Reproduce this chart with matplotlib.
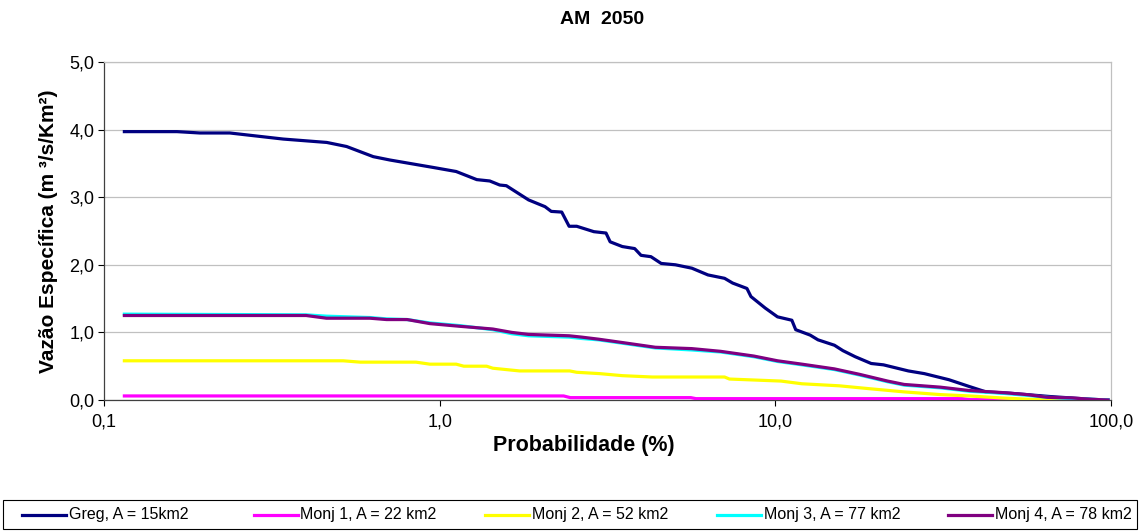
import matplotlib
matplotlib.use("Agg")
import matplotlib.pyplot as plt
from matplotlib.ticker import FixedLocator, NullLocator
from matplotlib.lines import Line2D
from matplotlib.patches import Rectangle

plt.rcParams['font.family'] = ['Liberation Sans', 'DejaVu Sans']

title = "AM  2050"
xlabel = "Probabilidade (%)"
ylabel = "Vazão Específica (m ³/s/Km²)"

labels = ["Greg, A = 15km2", "Monj 1, A = 22 km2", "Monj 2, A = 52 km2",
          "Monj 3, A = 77 km2", "Monj 4, A = 78 km2"]
colors = ["#000080", "#FF00FF", "#FFFF00", "#00FFFF", "#800080"]

greg_p = [0.115, 0.165, 0.193, 0.237, 0.342, 0.461, 0.528, 0.634, 0.711, 0.957, 1.12, 1.29,
          1.41, 1.51, 1.58, 1.84, 2.06, 2.15, 2.31, 2.43, 2.56, 2.88, 3.13, 3.22, 3.50, 3.81,
          3.98, 4.26, 4.57, 5.04, 5.64, 6.30, 7.06, 7.46, 8.23, 8.46, 9.33, 10.15, 11.2, 11.5,
          12.7, 13.4, 15.0, 15.9, 17.3, 19.3, 21.0, 24.9, 27.8, 32.9, 37.8, 42.4, 50.1, 66.3,
          87.7, 98.0]
greg_v = [3.97, 3.97, 3.95, 3.95, 3.86, 3.81, 3.75, 3.60, 3.55, 3.44, 3.38, 3.26, 3.24, 3.18,
          3.17, 2.96, 2.86, 2.79, 2.78, 2.57, 2.57, 2.49, 2.47, 2.34, 2.27, 2.24, 2.14, 2.12,
          2.02, 2.00, 1.95, 1.85, 1.80, 1.73, 1.65, 1.53, 1.36, 1.23, 1.18, 1.04, 0.96, 0.89,
          0.81, 0.73, 0.64, 0.54, 0.52, 0.43, 0.39, 0.30, 0.20, 0.12, 0.10, 0.05, 0.01, 0.0]

monj1_p = [0.115, 2.34, 2.45, 5.6, 5.8, 36.0, 38.0, 57.6, 88.0]
monj1_v = [0.06, 0.06, 0.035, 0.035, 0.02, 0.02, 0.005, 0.005, 0.0]

monj2_p = [0.115, 0.516, 0.58, 0.85, 0.935, 1.12, 1.18, 1.38, 1.44, 1.73, 2.44, 2.56, 3.0,
           3.5, 4.3, 7.06, 7.3, 10.4, 12.0, 15.5, 18.8, 24.2, 31.0, 37.8, 47.4, 57.6, 76.0, 88.0]
monj2_v = [0.58, 0.58, 0.56, 0.56, 0.53, 0.53, 0.50, 0.50, 0.47, 0.43, 0.43, 0.41, 0.39,
           0.36, 0.34, 0.34, 0.31, 0.28, 0.24, 0.21, 0.17, 0.12, 0.08, 0.06, 0.03, 0.01, 0.0, 0.0]

monj34_p = [0.115, 0.40, 0.46, 0.62, 0.695, 0.80, 0.935, 1.15, 1.44, 1.64, 1.84, 2.43, 2.65,
            2.97, 3.50, 4.39, 5.64, 6.87, 8.63, 10.15, 12.0, 15.0, 17.8, 21.6, 24.2, 31.0,
            37.8, 47.4, 56.1, 64.6, 76.4, 87.7, 98.0]
monj3_v = [1.27, 1.26, 1.24, 1.22, 1.20, 1.19, 1.14, 1.10, 1.04, 0.98, 0.95, 0.93, 0.91,
           0.89, 0.84, 0.77, 0.74, 0.71, 0.64, 0.57, 0.52, 0.45, 0.37, 0.27, 0.22, 0.18,
           0.13, 0.10, 0.07, 0.04, 0.02, 0.01, 0.0]
monj4_v = [1.25, 1.25, 1.21, 1.21, 1.19, 1.19, 1.13, 1.09, 1.05, 1.00, 0.97, 0.95, 0.93,
           0.90, 0.85, 0.78, 0.76, 0.72, 0.65, 0.58, 0.53, 0.46, 0.38, 0.28, 0.23, 0.19,
           0.14, 0.11, 0.08, 0.04, 0.03, 0.01, 0.0]

series = [(greg_p, greg_v), (monj1_p, monj1_v), (monj2_p, monj2_v),
          (monj34_p, monj3_v), (monj34_p, monj4_v)]

xticks = [0.1, 1.0, 10.0, 100.0]
xticklabels = ["0,1", "1,0", "10,0", "100,0"]
yticks = [0.0, 1.0, 2.0, 3.0, 4.0, 5.0]
yticklabels = ["0,0", "1,0", "2,0", "3,0", "4,0", "5,0"]

W, H = 1140, 531
fig = plt.figure(figsize=(W / 100, H / 100), dpi=100)
ax = fig.add_axes([104 / W, 1 - 400 / H, (1111 - 104) / W, (400 - 62) / H])

for (p, v), c, lab in zip(series, colors, labels):
    ax.plot(p, v, color=c, lw=2.3, label=lab, solid_joinstyle='round', zorder=3)

ax.set_xscale('log')
ax.set_xlim(0.1, 100)
ax.set_ylim(0, 5)
ax.xaxis.set_major_locator(FixedLocator(xticks))
ax.xaxis.set_minor_locator(NullLocator())
ax.set_xticklabels(xticklabels)
ax.set_yticks(yticks)
ax.set_yticklabels(yticklabels)
ax.tick_params(axis='both', labelsize=13, direction='out', length=4, width=0.8,
               colors='black', pad=3)
ax.tick_params(axis='x', pad=6)

ax.grid(axis='y', color='#C0C0C0', lw=0.9, zorder=0)
ax.set_axisbelow(True)
for s in ['top', 'right']:
    ax.spines[s].set_color('#C0C0C0')
    ax.spines[s].set_linewidth(0.9)
for s in ['left', 'bottom']:
    ax.spines[s].set_color('#404040')
    ax.spines[s].set_linewidth(0.9)

fig.text(602 / W, 1 - 20 / H, title, fontsize=14, fontweight='bold', ha='center', va='center')
fig.text(584 / W, 1 - 445 / H, xlabel, fontsize=15.5, fontweight='bold', ha='center', va='center')
ax.set_ylabel(ylabel, fontsize=15, fontweight='bold', labelpad=8)

# legend box drawn in figure coordinates, Excel-like equal-width entries
fig.add_artist(Rectangle((3 / W, 1 - 529 / H), 1134 / W, 29 / H, transform=fig.transFigure,
                         facecolor='white', edgecolor='black', lw=0.8))
ly = 1 - 515 / H
for i, (c, lab) in enumerate(zip(colors, labels)):
    x0 = 22 + 231.5 * i
    fig.add_artist(Line2D([x0 / W, (x0 + 44) / W], [ly, ly], transform=fig.transFigure,
                          color=c, lw=2.3))
    fig.text((x0 + 47) / W, ly, lab, fontsize=11.5, ha='left', va='center')

fig.savefig("out.png", dpi=100)
